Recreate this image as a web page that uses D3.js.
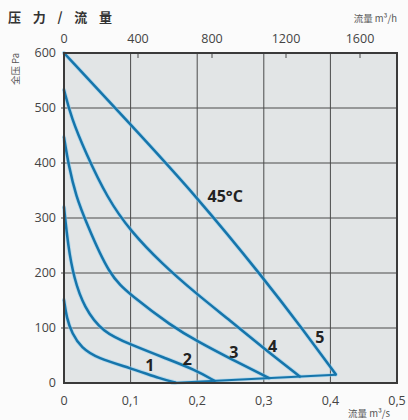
<!DOCTYPE html>
<html><head><meta charset="utf-8">
<script src="https://cdn.jsdelivr.net/npm/d3@7"></script>
<style>
body{margin:0;background:#fbfbfb;}
svg{display:block;font-family:"Open Sans","Noto Sans",sans-serif;}
</style></head>
<body><svg id="c" width="408" height="420"></svg>
<script>
// Data: flow in m³/s, pressure in Pa
const curve1 = [[0,151],[0.004,118],[0.012,90],[0.026,64],[0.05,45],[0.1,27],[0.147,7],[0.167,1]];
const curve2 = [[0,320],[0.006,250],[0.015,190],[0.03,138],[0.058,92],[0.1,70],[0.15,46],[0.197,24],[0.226,4]];
const curve3 = [[0,447],[0.007,395],[0.018,340],[0.033,293],[0.068,195],[0.1,160],[0.162,103],[0.2,76],[0.25,44],[0.308,9]];
const curve4 = [[0,533],[0.011,482],[0.032,420],[0.065,336],[0.1,276],[0.147,217],[0.197,164],[0.25,113],[0.3,63],[0.354,12]];
const curve5 = [[0,600],[0.1,470],[0.2,338],[0.3,190],[0.36,95],[0.408,16]];
const envelope = [[0.162,0],[0.408,15]];
const curveLabels = ["1","2","3","4","5"];
const labelPos = [[0.129,33],[0.185,44],[0.255,56],[0.313,67],[0.384,83]];
const tempLabel = "45°C";
const tempPos = [0.242,340];
const xTicks = [0,0.1,0.2,0.3,0.4,0.5];
const xTickLabels = ["0","0,1","0,2","0,3","0,4","0,5"];
const yTicks = [0,100,200,300,400,500,600];
const topTicks = [0,400,800,1200,1600];
const title = "压力/流量";
const yTitle = "全压 Pa";
const xTitle = "流量 m³/s";
const topTitle = "流量 m³/h";

const svg = d3.select("#c");
const L=64,R=397,T=53,B=383;
const x = d3.scaleLinear().domain([0,0.5]).range([L,R]);
const y = d3.scaleLinear().domain([0,600]).range([B,T]);
// m³/h axis: 1800 m³/h = 0.5 m³/s
const xh = d3.scaleLinear().domain([0,1800]).range([L,R]);

svg.append("rect").attr("x",L).attr("y",T).attr("width",R-L).attr("height",B-T).attr("fill","#e2e5e6");

// grid
const grid = svg.append("g").attr("stroke","#4a4a4a").attr("stroke-width",1);
xTicks.slice(1,-1).forEach(v=>grid.append("line").attr("x1",x(v)).attr("x2",x(v)).attr("y1",T).attr("y2",B));
yTicks.slice(1,-1).forEach(v=>grid.append("line").attr("x1",L-3).attr("x2",R).attr("y1",y(v)).attr("y2",y(v)));
topTicks.slice(1).forEach(v=>grid.append("line").attr("x1",xh(v)).attr("x2",xh(v)).attr("y1",T).attr("y2",T+5));

// curves
const line = d3.line().x(d=>x(d[0])).y(d=>y(d[1])).curve(d3.curveBasis);
const lineLin = d3.line().x(d=>x(d[0])).y(d=>y(d[1]));
const curves = [curve1,curve2,curve3,curve4,curve5];
const cg = svg.append("g").attr("fill","none").attr("stroke-linejoin","round").attr("stroke-linecap","round");
curves.forEach(c=>cg.append("path").attr("d",line(c)).attr("stroke","#8fcdee").attr("stroke-width",4.2).attr("opacity",0.55));
cg.append("path").attr("d",lineLin(envelope)).attr("stroke","#8fcdee").attr("stroke-width",3.6).attr("opacity",0.55);
curves.forEach(c=>cg.append("path").attr("d",line(c)).attr("stroke","#1675ab").attr("stroke-width",2.5));
cg.append("path").attr("d",lineLin(envelope)).attr("stroke","#1675ab").attr("stroke-width",2);

// border
svg.append("rect").attr("x",L).attr("y",T).attr("width",R-L).attr("height",B-T).attr("fill","none").attr("stroke","#3a3a3a").attr("stroke-width",2);

// curve labels
const lg = svg.append("g").attr("font-weight","bold").attr("fill","#222").attr("text-anchor","middle").attr("dominant-baseline","central").attr("font-size",16);
curveLabels.forEach((t,i)=>lg.append("text").attr("x",x(labelPos[i][0])).attr("y",y(labelPos[i][1])).text(t));
lg.append("text").attr("x",x(tempPos[0])).attr("y",y(tempPos[1])).text(tempLabel);

// axis labels
const ax = svg.append("g").attr("fill","#444").attr("font-size",12.5);
xTicks.forEach((v,i)=>ax.append("text").attr("x",x(v)).attr("y",405).attr("text-anchor","middle").text(xTickLabels[i]));
yTicks.forEach(v=>ax.append("text").attr("x",56).attr("y",y(v)).attr("dy","0.35em").attr("text-anchor","end").text(v));
topTicks.forEach(v=>ax.append("text").attr("x",xh(v)).attr("y",43).attr("text-anchor","middle").text(v));

svg.append("text").attr("x",8).attr("y",22).attr("font-size",13).attr("font-weight","bold").attr("fill","#333")
  .attr("font-family","Noto Sans CJK SC").attr("textLength",104).attr("lengthAdjust","spacing").text(title);
svg.append("text").attr("x",397).attr("y",22).attr("text-anchor","end").attr("font-size",9.5).attr("fill","#555").attr("font-family","Noto Sans CJK SC").text(topTitle);
svg.append("text").attr("x",390).attr("y",417).attr("text-anchor","end").attr("font-size",9.5).attr("fill","#555").attr("font-family","Noto Sans CJK SC").text(xTitle);
svg.append("text").attr("transform","translate(19,53) rotate(-90)").attr("text-anchor","end").attr("font-size",9.5).attr("fill","#555").attr("font-family","Noto Sans CJK SC").text(yTitle);
</script></body></html>
